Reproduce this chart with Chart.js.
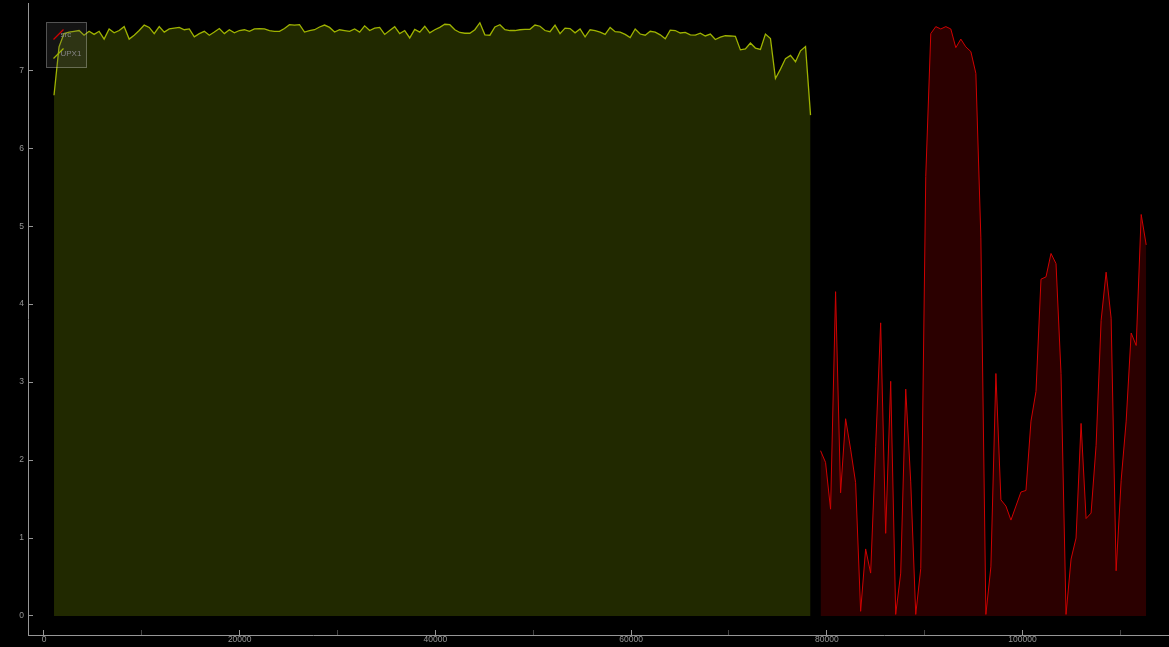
<!DOCTYPE html>
<html>
<head>
<meta charset="utf-8">
<script src="https://cdn.jsdelivr.net/npm/chart.js@4/dist/chart.umd.min.js"></script>
<style>
  html, body { margin: 0; padding: 0; background: #000; }
  #wrap { width: 1169px; height: 647px; position: relative; }
</style>
</head>
<body>
<div id="wrap"><canvas id="plot"></canvas></div>
<script>
// series names, in legend order
const seriesNames = ['src', 'UPX1'];

// sample positions (offsets) of each series
const upxStart = 1024;
const srcStart = 79360;
const sampleStep = 512;

// values
const upxValues = [
  6.68, 7.30, 7.47, 7.49, 7.50, 7.51, 7.45, 7.50, 7.46, 7.50,
  7.40, 7.53, 7.48, 7.51, 7.56, 7.40, 7.45, 7.51, 7.58, 7.55,
  7.47, 7.56, 7.49, 7.53, 7.54, 7.55, 7.52, 7.53, 7.43, 7.47,
  7.50, 7.45, 7.49, 7.535, 7.47, 7.52, 7.48, 7.51, 7.52, 7.50,
  7.53, 7.535, 7.53, 7.51, 7.50, 7.50, 7.535, 7.585, 7.58, 7.585,
  7.49, 7.51, 7.52, 7.555, 7.58, 7.55, 7.49, 7.52, 7.51, 7.50,
  7.53, 7.49, 7.57, 7.51, 7.54, 7.55, 7.46, 7.51, 7.56, 7.47,
  7.51, 7.415, 7.525, 7.49, 7.565, 7.48, 7.52, 7.55, 7.59, 7.585,
  7.52, 7.485, 7.475, 7.475, 7.52, 7.61, 7.455, 7.45, 7.555, 7.585,
  7.52, 7.51, 7.51, 7.52, 7.525, 7.525, 7.58, 7.565, 7.51, 7.495,
  7.58, 7.47, 7.54, 7.535, 7.48, 7.53, 7.43, 7.52, 7.51, 7.49,
  7.46, 7.55, 7.495, 7.49, 7.46, 7.42, 7.53, 7.465, 7.45, 7.50,
  7.49, 7.455, 7.405, 7.515, 7.51, 7.478, 7.485, 7.455, 7.45, 7.475,
  7.44, 7.465, 7.395, 7.425, 7.443, 7.44, 7.435, 7.262, 7.275, 7.35,
  7.285, 7.267, 7.465, 7.408, 6.895, 7.015, 7.15, 7.19, 7.11, 7.25,
  7.305, 6.425
];
const srcValues = [
  2.12, 1.97, 1.37, 4.16, 1.58, 2.53, 2.14, 1.71, 0.06, 0.86,
  0.55, 2.17, 3.76, 1.06, 3.01, 0.02, 0.55, 2.91, 1.72, 0.02,
  0.61, 5.64, 7.47, 7.56, 7.53, 7.56, 7.53, 7.29, 7.40, 7.30,
  7.24, 6.96, 4.85, 0.02, 0.63, 3.11, 1.49, 1.41, 1.23, 1.41,
  1.59, 1.61, 2.50, 2.88, 4.32, 4.35, 4.65, 4.52, 3.11, 0.02,
  0.73, 1.00, 2.47, 1.25, 1.32, 2.19, 3.79, 4.41, 3.82, 0.58,
  1.74, 2.50, 3.63, 3.47, 5.15, 4.76
];

// axis ranges and ticks
const xRange = [-1635, 114970];
const yRange = [-0.244, 7.863];
const xTicks = [0, 10000, 20000, 30000, 40000, 50000, 60000, 70000, 80000, 90000, 100000, 110000];
const xLabelled = [0, 20000, 40000, 60000, 80000, 100000];
const yTicks = [0, 1, 2, 3, 4, 5, 6, 7];

const axisColor = '#969696';
const tickFont = { family: 'Liberation Sans', size: 8.5 };

const toPoints = (start, values) => values.map((v, i) => ({ x: start + i * sampleStep, y: v }));

const noPad = s => { s.paddingTop = 0; s.paddingBottom = 0; s.paddingLeft = 0; s.paddingRight = 0; };

// pyqtgraph-like legend box drawn inside the plot
const legendBox = {
  id: 'legendBox',
  afterDatasetsDraw(chart) {
    const ctx = chart.ctx;
    const area = chart.chartArea;
    const x0 = area.left + 18.5, y0 = area.top + 19.5;
    ctx.save();
    ctx.fillStyle = 'rgba(100,100,100,0.2)';
    ctx.strokeStyle = 'rgba(255,255,255,0.3)';
    ctx.lineWidth = 1;
    ctx.fillRect(x0, y0, 40, 45);
    ctx.strokeRect(x0, y0, 40, 45);
    ctx.font = '8px "Liberation Sans"';
    ctx.textBaseline = 'middle';
    chart.data.datasets.forEach((ds, i) => {
      const cy = y0 + 12 + 19 * i;
      ctx.strokeStyle = ds.borderColor;
      ctx.lineWidth = 1.2;
      ctx.beginPath();
      ctx.moveTo(x0 + 7, cy + 5);
      ctx.lineTo(x0 + 17, cy - 5);
      ctx.stroke();
      ctx.fillStyle = '#858585';
      ctx.fillText(ds.label, x0 + 14, cy + 0.5);
    });
    ctx.restore();
  }
};

new Chart(document.getElementById('plot'), {
  type: 'line',
  data: {
    datasets: [
      {
        label: seriesNames[0],
        data: toPoints(srcStart, srcValues),
        borderColor: '#cf0000',
        backgroundColor: '#2b0000',
        borderWidth: 1,
        fill: 'origin'
      },
      {
        label: seriesNames[1],
        data: toPoints(upxStart, upxValues),
        borderColor: '#9fb300',
        backgroundColor: '#212900',
        borderWidth: 1.3,
        fill: 'origin'
      }
    ]
  },
  options: {
    responsive: true,
    maintainAspectRatio: false,
    animation: false,
    layout: { padding: { top: 3, left: 0, right: 0, bottom: 0 } },
    elements: { point: { radius: 0 }, line: { tension: 0 } },
    plugins: {
      legend: { display: false },
      tooltip: { enabled: false }
    },
    scales: {
      x: {
        type: 'linear',
        position: 'bottom',
        min: xRange[0],
        max: xRange[1],
        border: { display: true, color: axisColor, width: 1 },
        grid: {
          drawOnChartArea: false,
          drawTicks: true,
          tickLength: -5,
          color: c => (c.tick && xLabelled.includes(c.tick.value)) ? axisColor : 'rgba(150,150,150,0.45)'
        },
        ticks: {
          autoSkip: false,
          maxRotation: 0,
          padding: 5,
          color: axisColor,
          font: tickFont,
          callback: v => (xLabelled.includes(v) ? String(v) : '')
        },
        afterBuildTicks: s => { s.ticks = xTicks.map(v => ({ value: v })); },
        afterFit: s => { s.height = 12; noPad(s); }
      },
      y: {
        type: 'linear',
        position: 'left',
        min: yRange[0],
        max: yRange[1],
        border: { display: true, color: axisColor, width: 1 },
        grid: {
          drawOnChartArea: false,
          drawTicks: true,
          tickLength: -5,
          color: axisColor
        },
        ticks: {
          autoSkip: false,
          padding: 9,
          color: axisColor,
          font: tickFont,
          callback: v => String(v)
        },
        afterBuildTicks: s => { s.ticks = yTicks.map(v => ({ value: v })); },
        afterFit: s => { s.width = 28; noPad(s); }
      }
    }
  },
  plugins: [legendBox]
});
</script>
</body>
</html>
